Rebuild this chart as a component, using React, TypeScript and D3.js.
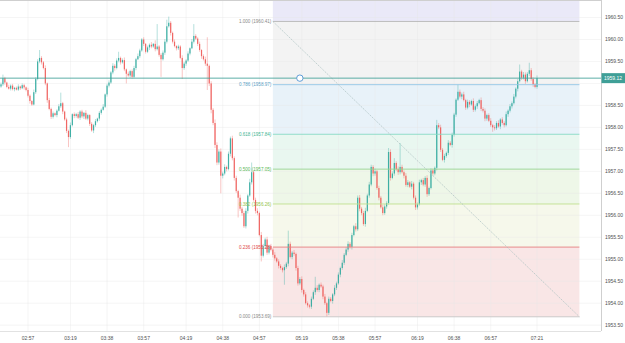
import React from "react";
import * as d3 from "d3";

// 1-minute candles, first one at 02:43
const startTime = "02:43";
const firstOpen = 1958.93;

const closes = [
  1958.98, 1959.12, 1959.02, 1958.92, 1958.88, 1958.95, 1958.87, 1958.90, 1958.86, 1958.93,
  1958.89, 1958.96, 1958.91, 1958.85, 1958.72, 1958.60, 1958.52, 1958.80, 1959.10, 1959.50,
  1959.58, 1959.48, 1959.35, 1959.00, 1958.62, 1958.42, 1958.24, 1958.32, 1958.28, 1958.38,
  1958.48, 1958.55, 1958.36, 1958.18, 1957.92, 1957.78, 1958.05, 1958.30, 1958.26, 1958.30,
  1958.22, 1958.36, 1958.25, 1958.33, 1958.20, 1958.28, 1958.08, 1957.93, 1958.05, 1958.14,
  1958.20, 1958.33, 1958.40, 1958.47, 1958.75, 1958.95, 1959.02, 1959.25, 1959.40, 1959.35,
  1959.52, 1959.58, 1959.48, 1959.53, 1959.32, 1959.22, 1959.18, 1959.28, 1959.15, 1959.35,
  1959.55, 1959.62, 1959.75, 1960.00, 1959.90, 1959.72, 1959.82, 1959.88, 1959.84, 1959.90,
  1959.78, 1959.84, 1959.65, 1959.55, 1959.70, 1959.95, 1960.30, 1960.38, 1960.15, 1959.95,
  1959.85, 1959.80, 1959.84, 1959.58, 1959.35, 1959.45, 1959.52, 1959.68, 1959.80, 1959.95,
  1960.08, 1960.02, 1959.90, 1959.76, 1959.62, 1959.55, 1959.45, 1959.40, 1959.00, 1958.40,
  1958.10, 1957.60, 1957.20, 1957.45, 1956.90, 1956.95, 1957.10, 1957.05, 1957.40, 1957.75,
  1957.30, 1956.85, 1956.55, 1956.40, 1956.15, 1956.05, 1955.75, 1956.10, 1956.45, 1956.75,
  1956.98, 1956.35, 1956.10, 1956.05, 1955.55, 1955.08, 1955.30, 1955.45, 1955.15, 1955.30,
  1955.22, 1955.10, 1955.02, 1954.95, 1954.85, 1954.80, 1954.75, 1954.82, 1954.90, 1955.35,
  1955.05, 1955.15, 1955.12, 1954.80, 1954.45, 1954.55, 1954.30, 1954.20, 1954.00, 1953.95,
  1953.92, 1954.10, 1954.25, 1954.35, 1954.30, 1954.42, 1954.38, 1954.15, 1954.00, 1953.78,
  1954.10, 1954.05, 1954.20, 1954.35, 1954.45, 1954.65, 1954.80, 1954.92, 1955.10, 1955.22,
  1955.35, 1955.28, 1955.55, 1955.75, 1955.68, 1956.40, 1956.15, 1956.05, 1955.80, 1956.10,
  1956.45, 1956.70, 1957.10, 1956.95, 1957.00, 1956.62, 1956.40, 1956.18, 1956.05, 1956.20,
  1956.28, 1957.44, 1956.85, 1956.95, 1957.19, 1957.05, 1956.98, 1957.10, 1956.98, 1956.90,
  1956.69, 1956.75, 1956.65, 1956.72, 1956.40, 1956.18, 1956.25, 1956.75, 1956.80, 1956.70,
  1956.85, 1956.48, 1956.62, 1957.02, 1956.95, 1957.08, 1958.05, 1958.00, 1957.49, 1957.26,
  1957.35, 1957.42, 1957.65, 1957.60, 1957.83, 1958.29, 1958.63, 1958.81, 1958.70, 1958.75,
  1958.62, 1958.45, 1958.58, 1958.52, 1958.60, 1958.40, 1958.48, 1958.55, 1958.62, 1958.42,
  1958.38, 1958.20, 1958.28, 1958.15, 1958.05, 1958.00, 1957.98, 1958.10, 1958.02, 1958.18,
  1958.10, 1958.05, 1958.30, 1958.38, 1958.48, 1958.55, 1958.70, 1958.88, 1959.05, 1959.27,
  1959.13, 1959.20, 1959.05, 1959.22, 1959.30, 1959.10, 1958.98, 1958.92, 1959.12,
];

// wick lengths above / below the body, in cents
const upperWick = [
  4, 8, 3, 2, 5, 3, 4, 2, 3, 5, 2, 4, 3, 2, 5, 3, 2, 6, 4, 5,
  18, 4, 3, 6, 2, 5, 3, 4, 2, 3, 5, 24, 3, 2, 4, 3, 6, 2, 4, 3,
  5, 3, 4, 2, 6, 3, 2, 4, 3, 5, 2, 4, 3, 6, 2, 4, 5, 3, 6, 4,
  5, 14, 3, 4, 6, 2, 5, 3, 4, 5, 3, 6, 4, 3, 5, 2, 4, 3, 6, 2,
  8, 51, 3, 4, 5, 6, 15, 14, 4, 3, 5, 2, 4, 3, 6, 4, 3, 5, 2, 6,
  27, 4, 3, 5, 2, 4, 6, 60, 3, 5, 4, 8, 6, 5, 7, 4, 6, 3, 5, 4,
  6, 4, 5, 3, 7, 4, 5, 6, 3, 8, 22, 4, 5, 6, 3, 7, 5, 4, 6, 3,
  5, 4, 6, 3, 5, 4, 3, 6, 4, 30, 5, 4, 6, 3, 5, 4, 6, 3, 5, 4,
  3, 5, 4, 25, 6, 3, 5, 4, 6, 3, 5, 4, 3, 6, 4, 5, 3, 6, 4, 5,
  6, 4, 5, 3, 7, 5, 6, 4, 5, 7, 4, 6, 5, 4, 6, 3, 5, 4, 6, 5,
  4, 9, 6, 5, 11, 4, 6, 54, 5, 4, 6, 5, 3, 6, 4, 5, 4, 6, 3, 5,
  4, 6, 3, 5, 4, 3, 12, 5, 6, 4, 5, 3, 6, 4, 5, 4, 3, 16, 5, 4,
  6, 3, 5, 4, 3, 6, 4, 5, 3, 6, 4, 5, 3, 4, 6, 3, 5, 4, 6, 3,
  5, 4, 6, 3, 5, 4, 6, 3, 5, 16, 4, 6, 5, 4, 17, 5, 4, 3, 6,
];

const lowerWick = [
  3, 4, 5, 3, 2, 4, 3, 5, 2, 3, 4, 2, 5, 3, 4, 6, 3, 2, 4, 3,
  4, 5, 3, 4, 6, 3, 5, 4, 3, 5, 2, 4, 6, 3, 5, 23, 4, 3, 5, 4,
  3, 5, 4, 6, 3, 4, 5, 3, 6, 4, 3, 5, 4, 2, 3, 5, 4, 3, 4, 6,
  3, 4, 5, 3, 4, 22, 3, 5, 4, 3, 5, 2, 4, 3, 5, 4, 3, 6, 4, 3,
  5, 3, 4, 40, 3, 5, 4, 3, 6, 4, 3, 5, 4, 3, 25, 4, 5, 3, 4, 2,
  4, 3, 5, 4, 6, 3, 5, 55, 6, 8, 5, 7, 6, 5, 40, 6, 4, 5, 3, 6,
  5, 6, 4, 45, 5, 6, 4, 5, 6, 3, 5, 4, 6, 5, 3, 13, 4, 6, 5, 4,
  4, 6, 5, 3, 6, 4, 5, 33, 4, 6, 3, 5, 4, 6, 5, 4, 6, 5, 3, 5,
  4, 5, 3, 6, 4, 5, 3, 6, 4, 9, 5, 3, 6, 4, 5, 3, 6, 4, 5, 3,
  5, 4, 6, 3, 5, 4, 6, 5, 4, 6, 3, 5, 4, 6, 5, 4, 6, 3, 5, 4,
  5, 4, 6, 3, 5, 4, 6, 5, 3, 6, 4, 5, 3, 6, 4, 6, 5, 3, 6, 4,
  5, 6, 4, 3, 5, 4, 6, 4, 5, 3, 6, 4, 5, 3, 6, 4, 5, 3, 4, 6,
  3, 5, 4, 6, 3, 5, 4, 6, 3, 5, 4, 6, 5, 3, 4, 10, 5, 4, 3, 6,
  4, 5, 3, 6, 4, 5, 3, 4, 6, 3, 5, 4, 6, 3, 5, 4, 6, 3, 4,
];

const timeLabels = [
  "02:57", "03:19", "03:38", "03:57", "04:19", "04:38", "04:57",
  "05:19", "05:38", "05:57", "06:19", "06:38", "06:57", "07:21",
];
const priceTicks = [
  1953.5, 1954, 1954.5, 1955, 1955.5, 1956, 1956.5, 1957,
  1957.5, 1958, 1958.5, 1959, 1959.5, 1960, 1960.5,
];

// fib retracement drawing
const fibFrom = { time: "05:04", price: 1960.41 };
const fibTo = { time: "07:43", price: 1953.69 };
const fibLevels = [1, 0.786, 0.618, 0.5, 0.382, 0.236, 0];
const fibLineColors = ["#b4b4b4", "#93c6e4", "#86d9c4", "#95d492", "#c0e08e", "#e58080", "#c6c6c6"];
const fibTextColors = ["#8a8a8a", "#5d9fc6", "#3fb594", "#58b858", "#93c44c", "#e04848", "#8a8a8a"];
// zone above each level
const fibFills = ["#eae9f8", "#f3f3f3", "#e8f2f9", "#e9f7f0", "#eef7e8", "#f6f8eb", "#f9e6e6"];

// horizontal line drawing
const hLine = { price: 1959.12, handleTime: "05:18" };

const W = 625;
const H = 343;
const plotW = 601;
const plotH = 331;
const font = "'Liberation Sans', Arial, sans-serif";
const upColor = "#26a69a";
const downColor = "#ef5350";
const lineColor = "#3f9f97";

const toMin = (t: string) => {
  const [h, m] = t.split(":").map(Number);
  return h * 60 + m;
};
const idx = (t: string) => toMin(t) - toMin(startTime);

const App = () => {
  const x = d3.scaleLinear().domain([idx("02:57"), idx("07:21")]).range([28, 537]);
  const y = d3.scaleLinear().domain([1953.367, 1960.898]).range([plotH, 0]);

  const candles = closes.map((c, i) => {
    const o = i === 0 ? firstOpen : closes[i - 1];
    return {
      i,
      o,
      c,
      h: Math.max(o, c) + upperWick[i] / 100,
      l: Math.min(o, c) - lowerWick[i] / 100,
    };
  });

  const fibRange = fibFrom.price - fibTo.price;
  const fibX0 = x(idx(fibFrom.time));
  const fibX1 = x(idx(fibTo.time));
  const levels = fibLevels.map((r, k) => ({
    r,
    k,
    price: fibTo.price + r * fibRange,
  }));

  const tagY = y(hLine.price);

  return (
    <svg
      width={W}
      height={H}
      style={{ position: "absolute", left: 0, top: 0, background: "#fff" }}
      fontFamily={font}
    >
      <defs>
        <clipPath id="plot">
          <rect x={0} y={0} width={plotW} height={plotH} />
        </clipPath>
      </defs>

      <g clipPath="url(#plot)">
        {/* fib zones */}
        {levels.map((lv) => {
          const top = lv.k === 0 ? 0 : y(levels[lv.k - 1].price);
          return (
            <rect
              key={"z" + lv.k}
              x={fibX0}
              y={top}
              width={fibX1 - fibX0}
              height={y(lv.price) - top}
              fill={fibFills[lv.k]}
            />
          );
        })}

        {/* grid */}
        <g stroke="#e6e6e6" strokeOpacity={0.7} strokeWidth={0.6}>
          {priceTicks.map((p) => (
            <line key={"gy" + p} x1={0} x2={plotW} y1={y(p)} y2={y(p)} />
          ))}
          {timeLabels.map((t) => (
            <line key={"gx" + t} x1={x(idx(t))} x2={x(idx(t))} y1={0} y2={plotH} />
          ))}
        </g>

        {/* candles */}
        {candles.map((d) => {
          const col = d.c >= d.o ? upColor : downColor;
          const cx = x(d.i);
          const top = y(Math.max(d.o, d.c));
          const bh = Math.max(0.7, y(Math.min(d.o, d.c)) - top);
          return (
            <g key={d.i} opacity={0.88}>
              <line x1={cx} x2={cx} y1={y(d.h)} y2={y(d.l)} stroke={col} strokeWidth={0.55} strokeOpacity={0.7} />
              <rect x={cx - 0.6} y={top} width={1.2} height={bh} fill={col} />
            </g>
          );
        })}

        {/* fib lines + labels */}
        {levels.map((lv) => (
          <g key={"l" + lv.k}>
            <line
              x1={fibX0}
              x2={fibX1}
              y1={y(lv.price)}
              y2={y(lv.price)}
              stroke={fibLineColors[lv.k]}
              strokeWidth={0.9}
            />
            <text
              x={fibX0 - 1.5}
              y={y(lv.price)}
              dy="0.35em"
              textAnchor="end"
              fontSize={4.6}
              fill={fibTextColors[lv.k]}
            >
              {`${lv.r.toFixed(3)} (${lv.price.toFixed(2)})`}
            </text>
          </g>
        ))}

        {/* trend line of the fib */}
        <line
          x1={fibX0}
          y1={y(fibFrom.price)}
          x2={fibX1}
          y2={y(fibTo.price)}
          stroke="#a9bebe"
          strokeWidth={0.7}
          strokeDasharray="1.5 1"
        />

        {/* horizontal line */}
        <line x1={0} x2={plotW} y1={tagY} y2={tagY} stroke={lineColor} strokeWidth={1} strokeOpacity={0.85} />
        <circle cx={x(idx(hLine.handleTime))} cy={tagY} r={3.2} fill="#fff" stroke="#4f93d2" strokeWidth={0.9} />
      </g>

      {/* frame */}
      <line x1={0} x2={plotW} y1={0.5} y2={0.5} stroke="#cfcfcf" strokeWidth={1} />
      <line x1={plotW + 0.5} x2={plotW + 0.5} y1={0} y2={plotH} stroke="#cfcfcf" strokeWidth={1} />
      <line x1={0} x2={plotW} y1={plotH + 0.5} y2={plotH + 0.5} stroke="#e2e2e2" strokeWidth={1} />

      {/* price axis */}
      {priceTicks
        .filter((p) => Math.abs(y(p) - tagY) > 8)
        .map((p) => (
          <text key={"py" + p} x={605} y={y(p)} dy="0.35em" fontSize={5} fill="#505050">
            {p.toFixed(2)}
          </text>
        ))}
      <rect x={plotW + 0.5} y={tagY - 5} width={W - plotW} height={10} fill={lineColor} />
      <text x={604} y={tagY} dy="0.35em" fontSize={5} fill="#fff">
        {hLine.price.toFixed(2)}
      </text>

      {/* time axis */}
      {timeLabels.map((t) => (
        <text key={"tx" + t} x={x(idx(t))} y={338} dy="0.35em" textAnchor="middle" fontSize={5} fill="#505050">
          {t}
        </text>
      ))}
    </svg>
  );
};

export default App;
